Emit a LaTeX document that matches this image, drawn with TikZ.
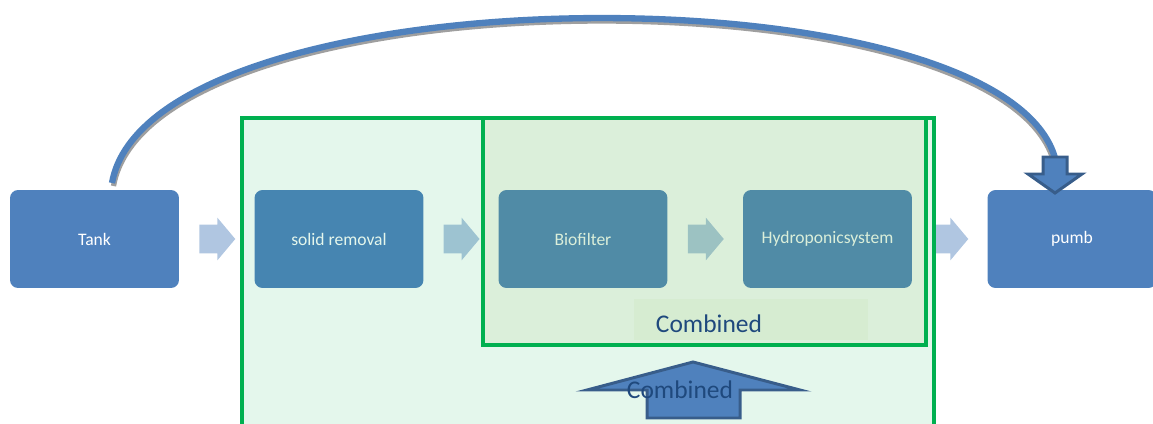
\documentclass[tikz,border=0pt]{standalone}
\usepackage{fontspec}
\setmainfont{Carlito}
\usetikzlibrary{shapes.arrows,calc}
\definecolor{boxblue}{HTML}{4F81BD}
\definecolor{darkblue}{HTML}{385D8A}
\definecolor{txtblue}{HTML}{1F497D}
\definecolor{zonegreen}{HTML}{00B050}
\definecolor{olive}{HTML}{9BBB59}
\begin{document}
\begin{tikzpicture}[x=0.02cm, y=-0.02cm,
    stage/.style={rectangle, fill=boxblue, rounded corners=0.16cm, minimum width=3.38cm, minimum height=1.96cm, text=white, font=\fontsize{10}{12}\selectfont},
    flow/.style={single arrow, fill=boxblue!45!white, minimum height=0.72cm, inner xsep=0pt, inner ysep=0.28cm, single arrow head extend=0.14cm, single arrow tip angle=100, xshift=-0.11cm},
    zone/.style={draw=zonegreen, line width=2.3pt},
    label/.style={text=txtblue, font=\fontsize{14.5}{17}\selectfont},
    blockhead/.style={fill=boxblue, draw=darkblue, line width=1.7pt, line join=miter},
    loop/.style={draw=boxblue, line width=3.6pt}
]
\clip (0,0) rectangle (1153,423);
\node[stage] (tank) at (94.5,239) {Tank};
\node[stage] (solid) at (339,239) {solid removal};
\node[stage] (bio) at (583,239) {Biofilter};
\node[stage] (hydro) at (827.5,239) {Hydroponicsystem};
\node[stage] (pumb) at (1072,239) {pumb};

\node[flow] (f1) at ($(tank.east)!0.5!(solid.west)$) {};
\node[flow] (f2) at ($(solid.east)!0.5!(bio.west)$) {};
\node[flow] (f3) at ($(bio.east)!0.5!(hydro.west)$) {};
\node[flow] (f4) at ($(hydro.east)!0.5!(pumb.west)$) {};

\fill[zonegreen, fill opacity=0.106] (242,118) rectangle (934,440);
\draw[zone] (242,118) rectangle (934,440);
\fill[olive, fill opacity=0.12] (483,118) rectangle (926,345);
\draw[zone] (483,118) rectangle (926,345);

\fill[olive, fill opacity=0.07] (634,299) rectangle (868,340);
\node[label] (comb1) at (709,324) {Combined};

\coordinate (loopstart) at (112,183);
\coordinate (loopend) at (1055,158);
\draw[loop, draw=gray!75, line width=3pt] ([xshift=0.03cm, yshift=-0.06cm]loopstart) .. controls ([xshift=0.03cm, yshift=-0.06cm]150,-30) and ([xshift=-0.03cm, yshift=-0.06cm]1000,-35) .. ([xshift=-0.03cm, yshift=-0.06cm]loopend);
\draw[loop] (loopstart) .. controls (150,-30) and (1000,-35) .. (loopend);
\draw[blockhead] (1043,157) -- (1067,157) -- (1067,174) -- (1082,174) -- (1055,193) -- (1028,174) -- (1043,174) -- cycle;

\draw[blockhead] (647,418) -- (647,390) -- (587,390) -- (693,362) -- (800,390) -- (740,390) -- (740,418) -- cycle;
\node[label] (comb2) at (680,390) {Combined};
\end{tikzpicture}
\end{document}
